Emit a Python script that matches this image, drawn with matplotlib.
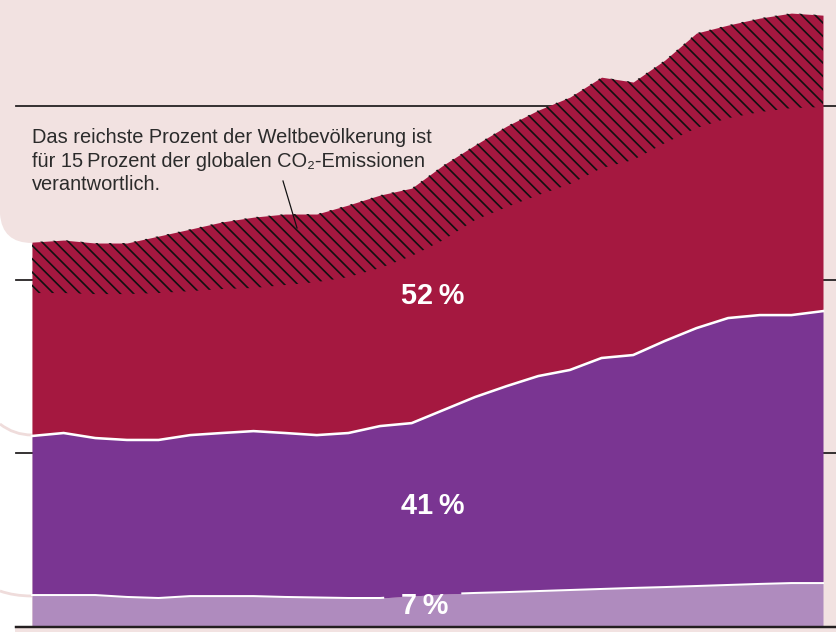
import numpy as np
import matplotlib
matplotlib.use("Agg")
import matplotlib.pyplot as plt
from matplotlib.path import Path
from matplotlib.patches import PathPatch

# CO2 emissions (Gt) by income group, 1990-2015
years = np.arange(1990, 2016)
bottom50 = [1.84, 1.84, 1.84, 1.73, 1.67, 1.78, 1.78, 1.78, 1.73, 1.70, 1.67, 1.67, 1.78,
            1.90, 1.96, 2.01, 2.07, 2.13, 2.19, 2.25, 2.30, 2.36, 2.42, 2.48, 2.53, 2.53]
middle40 = [9.16, 9.33, 9.04, 9.04, 9.10, 9.27, 9.39, 9.50, 9.44, 9.35, 9.50, 9.90, 9.96,
            10.59, 11.28, 11.86, 12.38, 12.67, 13.30, 13.41, 14.17, 14.85, 15.37, 15.48, 15.43, 15.66]
top10_rest = [8.23, 8.06, 8.29, 8.40, 8.46, 8.29, 8.29, 8.24, 8.52, 8.81, 8.98, 9.10, 9.62,
              9.79, 10.19, 10.31, 10.42, 10.70, 10.93, 11.23, 11.39, 11.52, 11.51, 11.69, 11.92, 11.75]
top1 = [2.93, 3.05, 2.94, 2.94, 3.28, 3.57, 3.86, 4.08, 4.09, 3.92, 4.15, 4.20, 3.91,
        4.32, 4.32, 4.66, 4.89, 5.01, 5.24, 4.49, 4.78, 5.47, 5.36, 5.41, 5.47, 5.29]
share_labels = ["7\u2009%", "41\u2009%", "52\u2009%"]
gridlines = [10, 20, 30]
note_lines = ["Das reichste Prozent der Weltbevölkerung ist",
              "für 15\u2009Prozent der globalen CO\u2082-Emissionen",
              "verantwortlich."]

PINK = "#f2e2e1"
CRIMSON = "#a51840"
PURPLE = "#7a3592"
LILAC = "#af8bbe"
INK = "#231f20"

plt.rcParams["hatch.linewidth"] = 1.5
plt.rcParams["hatch.color"] = "#111111"
FONT = ["Liberation Sans", "DejaVu Sans"]

W, H, DPI = 836, 632, 80
fig = plt.figure(figsize=(W / DPI, H / DPI), dpi=DPI)
fig.patch.set_facecolor(PINK)

# background shapes, in pixel coords
bg = fig.add_axes([0, 0, 1, 1], zorder=0)
bg.set_xlim(0, W)
bg.set_ylim(H, 0)
bg.axis("off")
white = Path([(0, 214), (2, 243), (32, 243), (32, 628), (15, 628), (15, H), (0, H), (0, 214)],
             [Path.MOVETO, Path.CURVE3, Path.CURVE3, Path.LINETO, Path.LINETO,
              Path.LINETO, Path.LINETO, Path.CLOSEPOLY])
bg.add_patch(PathPatch(white, facecolor="white", edgecolor="none"))
for y0, y1 in [(424, 435), (591, 596)]:
    arc = Path([(0, y0), (14, y1), (32, y1)], [Path.MOVETO, Path.CURVE3, Path.CURVE3])
    bg.add_patch(PathPatch(arc, facecolor="none", edgecolor="#efdcdb", lw=2.5))

# main chart
px_per_year = (823 - 32) / 25
px_per_gt = (627 - 106) / 30
ax = fig.add_axes([0, 0, 1, 1], zorder=1)
ax.patch.set_alpha(0)
ax.set_xlim(1990 - 32 / px_per_year, 2015 + 13 / px_per_year)
ax.set_ylim(-5 / px_per_gt, 627 / px_per_gt)
ax.axis("off")

for g in gridlines:
    ax.axhline(g, xmin=16 / W, xmax=1, color=INK, lw=1.6, zorder=0)

c1 = np.array(bottom50)
c2 = c1 + np.array(middle40)
c3 = c2 + np.array(top10_rest)
c4 = c3 + np.array(top1)

ax.fill_between(years, 0, c1, color=LILAC, lw=0, zorder=1)
ax.fill_between(years, c1, c2, color=PURPLE, lw=0, zorder=1)
ax.fill_between(years, c2, c4, color=CRIMSON, lw=0, zorder=1)
ax.fill_between(years, c3, c4, facecolor="none", edgecolor="#111111", lw=0,
                hatch="\\\\", zorder=2)

ax.plot(years, c2, color="white", lw=2.3, zorder=3, solid_joinstyle="round")
# white rule under the 7 % band, interrupted where its label sits
gap = (2001.1, 2003.6)
left = years < gap[0]
right = years > gap[1]
ax.plot(np.r_[years[left], gap[0]], np.r_[c1[left], np.interp(gap[0], years, c1)],
        color="white", lw=1.8, zorder=3)
ax.plot(np.r_[gap[1], years[right]], np.r_[np.interp(gap[1], years, c1), c1[right]],
        color="white", lw=1.8, zorder=3)

ax.axhline(0, xmin=16 / W, xmax=1, color=INK, lw=2.2, zorder=4)

# labels and note, in pixel coords
top = fig.add_axes([0, 0, 1, 1], zorder=2)
top.set_xlim(0, W)
top.set_ylim(H, 0)
top.axis("off")
top.patch.set_alpha(0)

for label, yb in zip(share_labels, [614, 514, 304]):
    top.text(401, yb, label, color="white", fontsize=26, fontweight="bold",
             family=FONT, ha="left", va="baseline")

for line, yb in zip(note_lines, [143, 167, 190]):
    top.text(32, yb, line, color="#2b2b2b", fontsize=18, family=FONT,
             ha="left", va="baseline")
top.plot([283, 297], [181, 228], color="#111111", lw=1.1)

fig.savefig("out.png", dpi=DPI, facecolor=fig.get_facecolor())
